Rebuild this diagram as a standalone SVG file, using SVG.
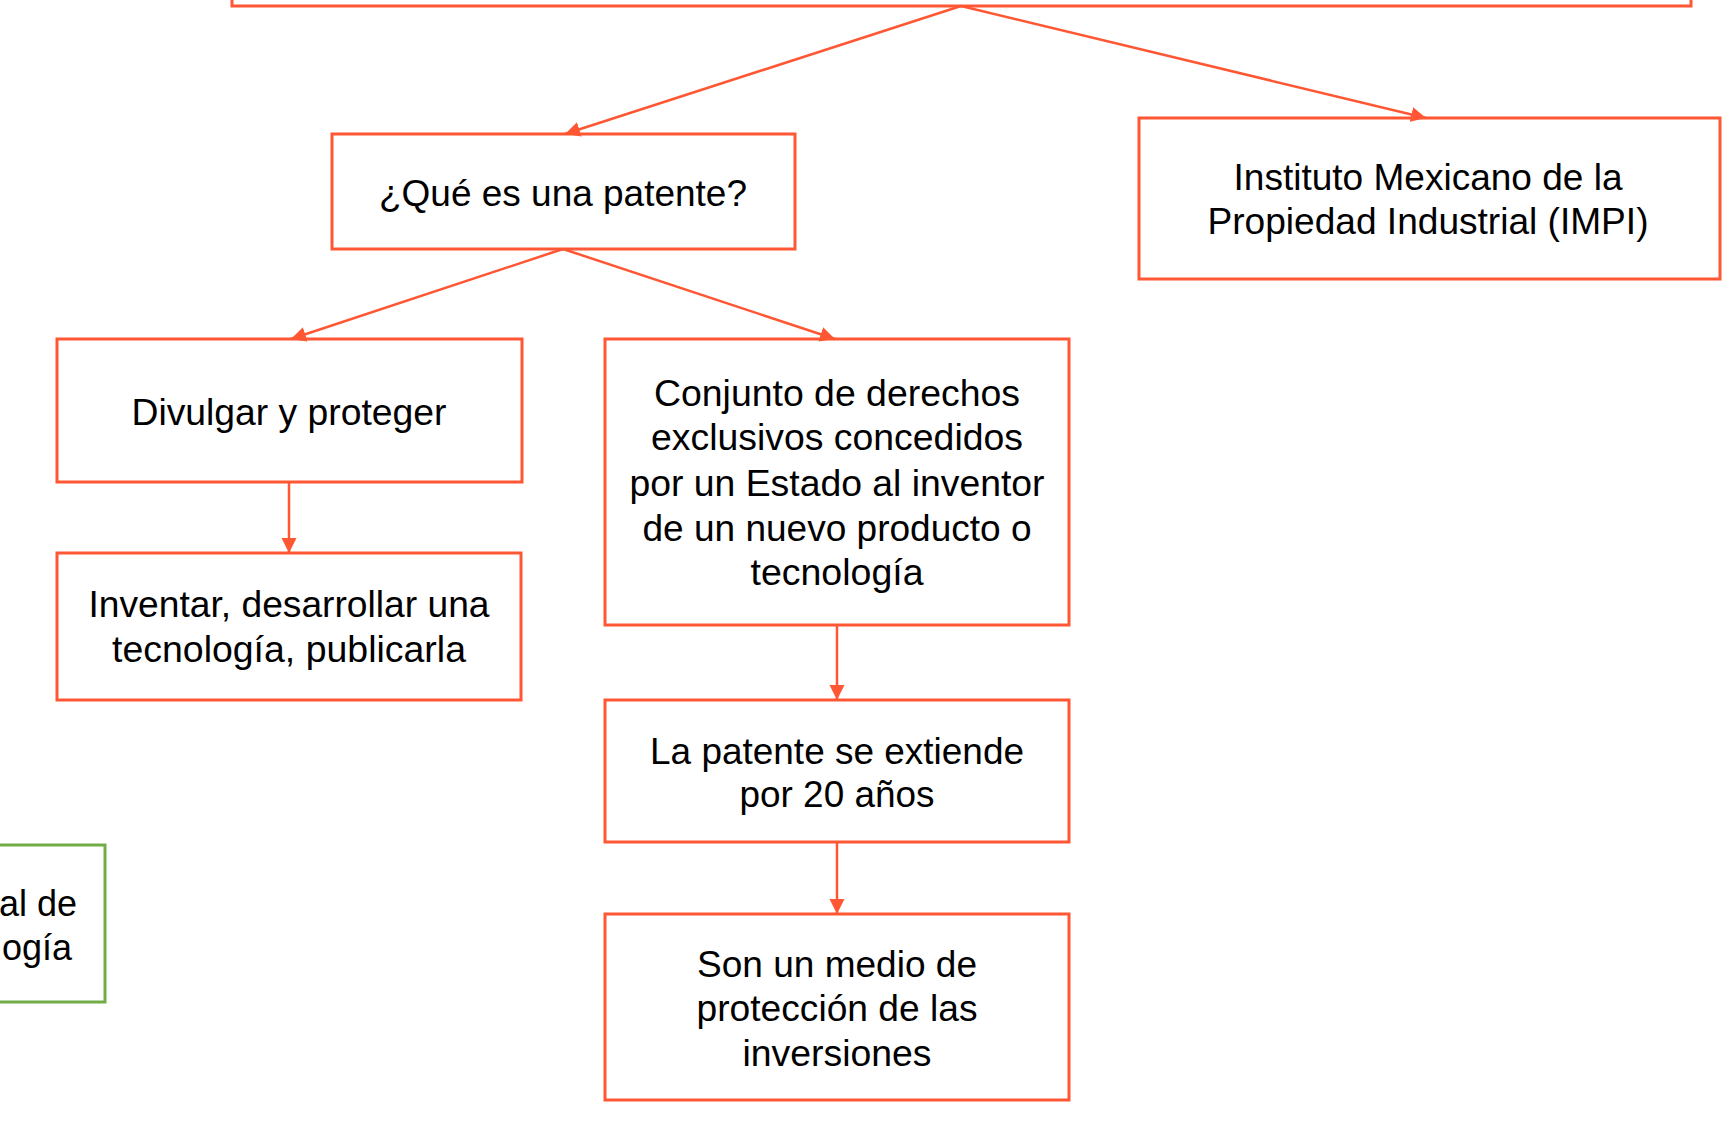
<svg xmlns="http://www.w3.org/2000/svg" width="1722" height="1122" viewBox="0 0 1722 1122">
<style>
.box{fill:#FFFFFF;stroke:#FF5733;stroke-width:3}
.gbox{fill:#FFFFFF;stroke:#70AD47;stroke-width:3}
.t{font-family:"Liberation Sans",Arial,sans-serif;font-size:36px;fill:#000000;text-anchor:middle}
.te{font-family:"Liberation Sans",Arial,sans-serif;font-size:36px;fill:#000000;text-anchor:end}
.c{fill:none;stroke:#FF5733;stroke-width:2.5}
</style>
<defs>
<marker id="ah" markerUnits="userSpaceOnUse" markerWidth="16" markerHeight="16" refX="15" refY="8" orient="auto">
<path d="M0,0.5 L15,8 L0,15.5 z" fill="#FF5733"/>
</marker>
</defs>
<rect width="1722" height="1122" fill="#FFFFFF"/>
<g id="top">
<rect class="box" x="232" y="-30" width="1459" height="36"/>
</g>
<g id="que">
<rect class="box" x="332" y="134" width="463" height="115"/>
<text class="t" x="563" y="206" textLength="368" lengthAdjust="spacingAndGlyphs">¿Qué es una patente?</text>
</g>
<g id="impi">
<rect class="box" x="1139" y="118" width="581" height="161"/>
<text class="t" x="1428" y="190" textLength="389" lengthAdjust="spacingAndGlyphs">Instituto Mexicano de la</text>
<text class="t" x="1428" y="234" textLength="441" lengthAdjust="spacingAndGlyphs">Propiedad Industrial (IMPI)</text>
</g>
<g id="divulgar">
<rect class="box" x="57" y="339" width="465" height="143"/>
<text class="t" x="289" y="425" textLength="315" lengthAdjust="spacingAndGlyphs">Divulgar y proteger</text>
</g>
<g id="inventar">
<rect class="box" x="57" y="553" width="464" height="147"/>
<text class="t" x="289" y="617" textLength="401" lengthAdjust="spacingAndGlyphs">Inventar, desarrollar una</text>
<text class="t" x="289" y="662" textLength="354" lengthAdjust="spacingAndGlyphs">tecnología, publicarla</text>
</g>
<g id="conjunto">
<rect class="box" x="605" y="339" width="464" height="286"/>
<text class="t" x="837" y="406" textLength="366" lengthAdjust="spacingAndGlyphs">Conjunto de derechos</text>
<text class="t" x="837" y="450" textLength="372" lengthAdjust="spacingAndGlyphs">exclusivos concedidos</text>
<text class="t" x="837" y="496" textLength="415" lengthAdjust="spacingAndGlyphs">por un Estado al inventor</text>
<text class="t" x="837" y="541" textLength="389" lengthAdjust="spacingAndGlyphs">de un nuevo producto o</text>
<text class="t" x="837" y="585" textLength="173" lengthAdjust="spacingAndGlyphs">tecnología</text>
</g>
<g id="patente20">
<rect class="box" x="605" y="700" width="464" height="142"/>
<text class="t" x="837" y="764" textLength="374" lengthAdjust="spacingAndGlyphs">La patente se extiende</text>
<text class="t" x="837" y="807" textLength="195" lengthAdjust="spacingAndGlyphs">por 20 años</text>
</g>
<g id="medio">
<rect class="box" x="605" y="914" width="464" height="186"/>
<text class="t" x="837" y="977" textLength="280" lengthAdjust="spacingAndGlyphs">Son un medio de</text>
<text class="t" x="837" y="1021" textLength="281" lengthAdjust="spacingAndGlyphs">protección de las</text>
<text class="t" x="837" y="1066" textLength="189" lengthAdjust="spacingAndGlyphs">inversiones</text>
</g>
<g id="green">
<rect class="gbox" x="-200" y="845" width="305" height="157"/>
<text class="te" x="77" y="916">al de</text>
<text class="te" x="72" y="960">ogía</text>
</g>
<g id="connectors">
<line class="c" x1="961" y1="6" x2="565" y2="134" marker-end="url(#ah)"/>
<line class="c" x1="961" y1="6" x2="1426" y2="118" marker-end="url(#ah)"/>
<line class="c" x1="563" y1="249" x2="291" y2="339" marker-end="url(#ah)"/>
<line class="c" x1="563" y1="249" x2="835" y2="339" marker-end="url(#ah)"/>
<line class="c" x1="289" y1="482" x2="289" y2="553" marker-end="url(#ah)"/>
<line class="c" x1="837" y1="625" x2="837" y2="700" marker-end="url(#ah)"/>
<line class="c" x1="837" y1="842" x2="837" y2="914" marker-end="url(#ah)"/>
</g>
</svg>
